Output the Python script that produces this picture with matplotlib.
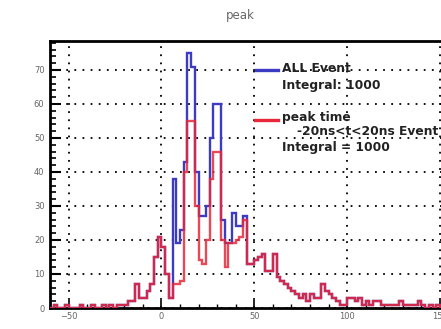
import numpy as np
import matplotlib
matplotlib.use('Agg')
import matplotlib.pyplot as plt
from matplotlib.lines import Line2D
from matplotlib.ticker import MultipleLocator

W, H = 441, 329

# bin edges: 2 ns bins from -60 to 150
bin_lo = -60
bin_w = 2

# counts per bin, left edge -60 upward
tail_left = [0, 1, 0, 0, 1, 0, 0, 0, 1, 0, 0, 1, 0, 0, 1, 0, 1, 0, 1, 1, 1, 2, 2]
rise = [7, 3, 3, 5, 7, 15, 21, 18, 10, 3]
core_all = [38, 19, 23, 43, 75, 71, 40, 27, 27, 30, 50, 60, 60, 26, 19, 19, 28, 24, 24, 27]
core_cut = [7, 7, 8, 40, 55, 55, 30, 14, 13, 20, 38, 46, 46, 20, 12, 19, 19, 20, 21, 26]
tail_right = [13, 13, 14, 15, 16, 11, 11, 16, 9, 8, 7, 6, 5, 4, 3, 4, 2, 4, 3, 3,
              7, 5, 4, 3, 2, 1, 1, 3, 3, 2, 3, 1, 2, 1, 2, 2, 1, 1, 1, 1,
              1, 2, 1, 1, 1, 1, 2, 1, 0, 1, 0, 1]

all_event = np.array(tail_left + rise + core_all + tail_right, dtype=float)
peak_cut = np.array(tail_left + rise + core_cut + tail_right, dtype=float)
edges = bin_lo + bin_w * np.arange(len(all_event) + 1)

fig = plt.figure(figsize=(W / 100, H / 100), dpi=100)
ax = fig.add_axes([50 / W, 21 / H, 1.04 - 50 / W, 267 / H])

ax.stairs(all_event, edges, color='#3b3bc4', lw=1.7, zorder=3)
ax.stairs(peak_cut, edges, color='#e8283a', lw=1.7, alpha=0.85, zorder=4)

ax.set_xlim(-60, 160)
ax.set_ylim(0, 78.5)
ax.set_xticks([-50, 0, 50, 100, 150])
ax.set_yticks(np.arange(0, 80, 10))
ax.xaxis.set_minor_locator(MultipleLocator(10))
ax.yaxis.set_minor_locator(MultipleLocator(2))
ax.tick_params(which='both', direction='in', colors='k', labelcolor='#666666',
               labelsize=6, top=False, right=False)
ax.tick_params(axis='y', which='major', length=8, width=1.5, pad=4)
ax.tick_params(axis='y', which='minor', length=4, width=1.2)
ax.tick_params(axis='x', which='major', length=6, width=1.2, pad=3)
ax.tick_params(axis='x', which='minor', length=3, width=1.0)

for s in ax.spines.values():
    s.set_linewidth(2)

ax.set_axisbelow(True)
ax.grid(True, which='major', color='k', linestyle=(0, (1, 3.5)), lw=1.3)

fig.text(240 / W, 1 - 15 / H, 'peak', ha='center', va='center',
         fontsize=8.5, color='#666666')


def fx(x):
    return x / W


def fy(y):
    return 1 - y / H


# legend entries
fig.add_artist(Line2D([fx(256), fx(278)], [fy(70), fy(70)], color='#3b3bc4', lw=2.4))
fig.add_artist(Line2D([fx(255), fx(278)], [fy(120), fy(120)], color='#e8283a', lw=2.4))
txt = dict(fontsize=8.8, fontweight='bold', color='#222222', ha='left', va='center')
fig.text(fx(282), fy(68), 'ALL Event', **txt)
fig.text(fx(282), fy(85), 'Integral: 1000', **txt)
fig.text(fx(282), fy(117), 'peak time', **txt)
fig.text(fx(297), fy(132), '-20ns<t<20ns Event', **txt)
fig.text(fx(282), fy(147), 'Integral = 1000', **txt)

fig.savefig('out.png', dpi=100)
